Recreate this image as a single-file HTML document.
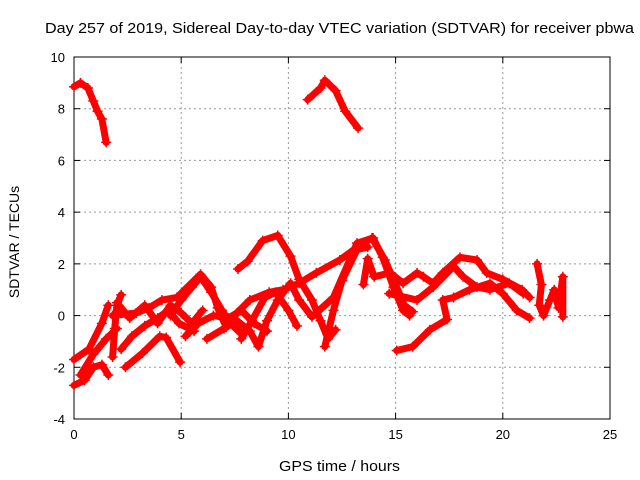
<!DOCTYPE html>
<html><head><meta charset="utf-8">
<style>
html,body{margin:0;padding:0;background:#fff;}
svg{display:block;font-family:"Liberation Sans",sans-serif;}
</style></head>
<body>
<svg id="chart" width="640" height="480" viewBox="0 0 640 480">
<rect width="640" height="480" fill="#fff"/>
<text x="45" y="33" font-size="15" textLength="589" lengthAdjust="spacingAndGlyphs" fill="#000">Day 257 of 2019, Sidereal Day-to-day VTEC variation (SDTVAR) for receiver pbwa</text>
<text x="279" y="471" font-size="15" textLength="121" lengthAdjust="spacingAndGlyphs">GPS time / hours</text>
<text transform="translate(19,242) rotate(-90)" font-size="14" text-anchor="middle">SDTVAR / TECUs</text>
<g id="grid"></g>
<g id="axes"></g>
<g id="series"></g>
</svg>
<script>
const xTicks = [0,5,10,15,20,25];
const yTicks = [-4,-2,0,2,4,6,8,10];
const trackA = [[0,-1.7],[0.7,-1.3],[1.3,-0.3],[1.6,0.4]];
const trackB = [[0,-2.7],[0.5,-2.5],[0.9,-2.0],[1.3,-1.9],[1.6,-2.3]];
const trackL = [[0.3,-2.3],[0.9,-1.5],[1.5,-0.9],[2.0,-0.5]];
const trackM = [[1.8,-1.6],[1.9,-0.5],[2.0,0.4],[2.2,0.8]];
const trackT1 = [[0,8.85],[0.3,9.0],[0.65,8.8],[0.9,8.3],[1.1,7.9],[1.3,7.6],[1.5,6.7]];
const trackT2 = [[10.9,8.35],[11.5,8.8],[11.7,9.1],[12.2,8.7],[12.65,7.9],[13.25,7.25]];
const trackT3 = [[7.65,1.8],[8.1,2.1],[8.8,2.9],[9.5,3.1],[10.1,2.3],[10.5,1.4],[11.1,0.6],[11.5,-0.2],[11.85,-0.9],[12.2,-0.55]];
const trackD = [[2.4,-2.0],[3.2,-1.45],[4.0,-0.8],[4.3,-0.85],[4.95,-1.8]];
const trackE = [[1.8,0.0],[2.9,0.1],[3.5,0.3],[4.1,0.6],[4.8,0.7],[5.9,1.6],[6.4,1.1],[6.7,0.3],[7.1,-0.45],[7.6,0.1],[8.2,0.6],[9.1,0.9],[9.75,1.0],[10.5,1.25],[11.3,1.65],[12.4,2.15],[13.3,2.7],[13.9,3.0],[14.5,2.15],[15.0,1.2],[15.4,0.4],[15.8,0.15]];
const trackF = [[4.5,0.0],[5.0,0.6],[5.5,1.1],[5.9,1.5],[6.4,0.9],[6.9,0.2],[7.3,-0.3],[7.8,-0.7]];
const trackG = [[5.2,-0.8],[5.8,-0.3],[6.5,0.0],[7.2,-0.1],[7.8,0.2],[8.4,-0.3],[9.0,-0.6]];
const trackH = [[6.2,-0.9],[7.0,-0.5],[7.6,-0.2],[8.2,-0.6],[8.6,-1.2],[9.0,-0.2],[9.5,0.6],[10.1,1.25],[10.5,0.6],[11.1,-0.05],[12.1,0.7],[13.2,2.8],[13.95,3.0],[14.4,2.25],[14.9,1.1],[15.35,0.2],[15.65,0.0]];
const trackI = [[7.8,-0.9],[8.3,-0.2],[8.9,0.7],[9.4,0.9],[10.0,0.2],[10.4,-0.4]];
const trackJ = [[2.0,0.5],[2.6,-0.1],[3.3,0.4],[3.9,-0.3],[4.5,0.4],[5.0,0.1],[5.5,-0.3],[6.0,0.2]];
const trackK = [[2.2,-1.3],[2.7,-0.8],[3.3,-0.4],[3.9,-0.1],[4.4,0.2],[4.9,-0.3],[5.6,-0.6]];
const trackN = [[11.7,-1.2],[12.1,0.2],[12.5,1.35],[13.2,2.55],[13.7,2.65]];
const trackO = [[13.5,1.2],[13.7,2.2],[14.0,1.5],[14.75,1.65],[15.35,1.25],[16.0,1.65],[16.3,1.5],[16.75,1.25],[17.2,1.65],[18.0,2.25],[18.8,2.15],[19.25,1.65],[20.0,1.4],[20.9,1.0],[21.25,0.7]];
const trackP = [[15.05,-1.35],[15.8,-1.2],[16.6,-0.55],[17.4,-0.15],[17.2,0.6],[17.7,0.7],[18.45,1.0],[19.4,1.25],[20.0,0.85],[20.65,0.2],[21.25,-0.1]];
const trackQ = [[14.7,0.85],[16.0,0.6],[16.75,1.1],[17.7,1.9],[18.15,1.5],[18.8,1.1],[19.4,1.0],[20.3,1.25],[20.95,0.85]];
const trackR = [[21.6,2.0],[21.8,1.2],[21.7,0.4],[21.9,0.0],[22.2,0.6],[22.4,1.0],[22.6,0.3],[22.8,1.5],[22.8,-0.05]];
const tracks = [trackA,trackB,trackL,trackM,trackT1,trackT2,trackT3,trackD,trackE,trackF,trackG,trackH,trackI,trackJ,trackK,trackN,trackO,trackP,trackQ,trackR];

const X0=74,X1=610,Y0=419,Y1=57;
function xs(v){return X0+(v-0)/(25-0)*(X1-X0);}
function ys(v){return Y0-(v+4)/(14)*(Y0-Y1);}
const NS="http://www.w3.org/2000/svg";
function mk(t,a,parent){const e=document.createElementNS(NS,t);for(const k in a)e.setAttribute(k,a[k]);parent.appendChild(e);return e;}
const grid=document.getElementById('grid'),axes=document.getElementById('axes'),ser=document.getElementById('series');
xTicks.forEach(t=>{
  const x=xs(t);
  if(t>0&&t<25){const l=mk('line',{x1:x,y1:Y0,x2:x,y2:Y1,stroke:'#999','stroke-dasharray':'2,3'},grid);
  
  }
  mk('line',{x1:x,y1:Y0,x2:x,y2:Y0-6,stroke:'#000'},axes);
  mk('line',{x1:x,y1:Y1,x2:x,y2:Y1+6,stroke:'#000'},axes);
  const tx=mk('text',{x:x,y:Y0+20,'font-size':13,'text-anchor':'middle'},axes);tx.textContent=t;
  
  
});
yTicks.forEach(t=>{
  const y=ys(t);
  if(t>-4&&t<10){const l=mk('line',{x1:X0,y1:y,x2:X1,y2:y,stroke:'#999','stroke-dasharray':'2,3'},grid);
  
  }
  mk('line',{x1:X0,y1:y,x2:X0+6,y2:y,stroke:'#000'},axes);
  mk('line',{x1:X1,y1:y,x2:X1-6,y2:y,stroke:'#000'},axes);
  const tx=mk('text',{x:X0-9,y:y+5,'font-size':13,'text-anchor':'end'},axes);tx.textContent=t;
  
  
});
const fr=mk('rect',{x:X0,y:Y1,width:X1-X0,height:Y0-Y1,fill:'none',stroke:'#000'},axes);


tracks.forEach(tr=>{
  const pl=mk('polyline',{points:tr.map(p=>xs(p[0])+','+ys(p[1])).join(' '),fill:'none',stroke:'#f00','stroke-width':7,'stroke-linejoin':'round','stroke-linecap':'round'},ser);
  
  
  tr.forEach(p=>{
    const x=xs(p[0]),y=ys(p[1]);
    const m=mk('path',{d:`M${x-5},${y}H${x+5}M${x},${y-5}V${y+5}`,stroke:'#f00','stroke-width':1.5},ser);
    
    
  });
});
</script>
</body></html>
